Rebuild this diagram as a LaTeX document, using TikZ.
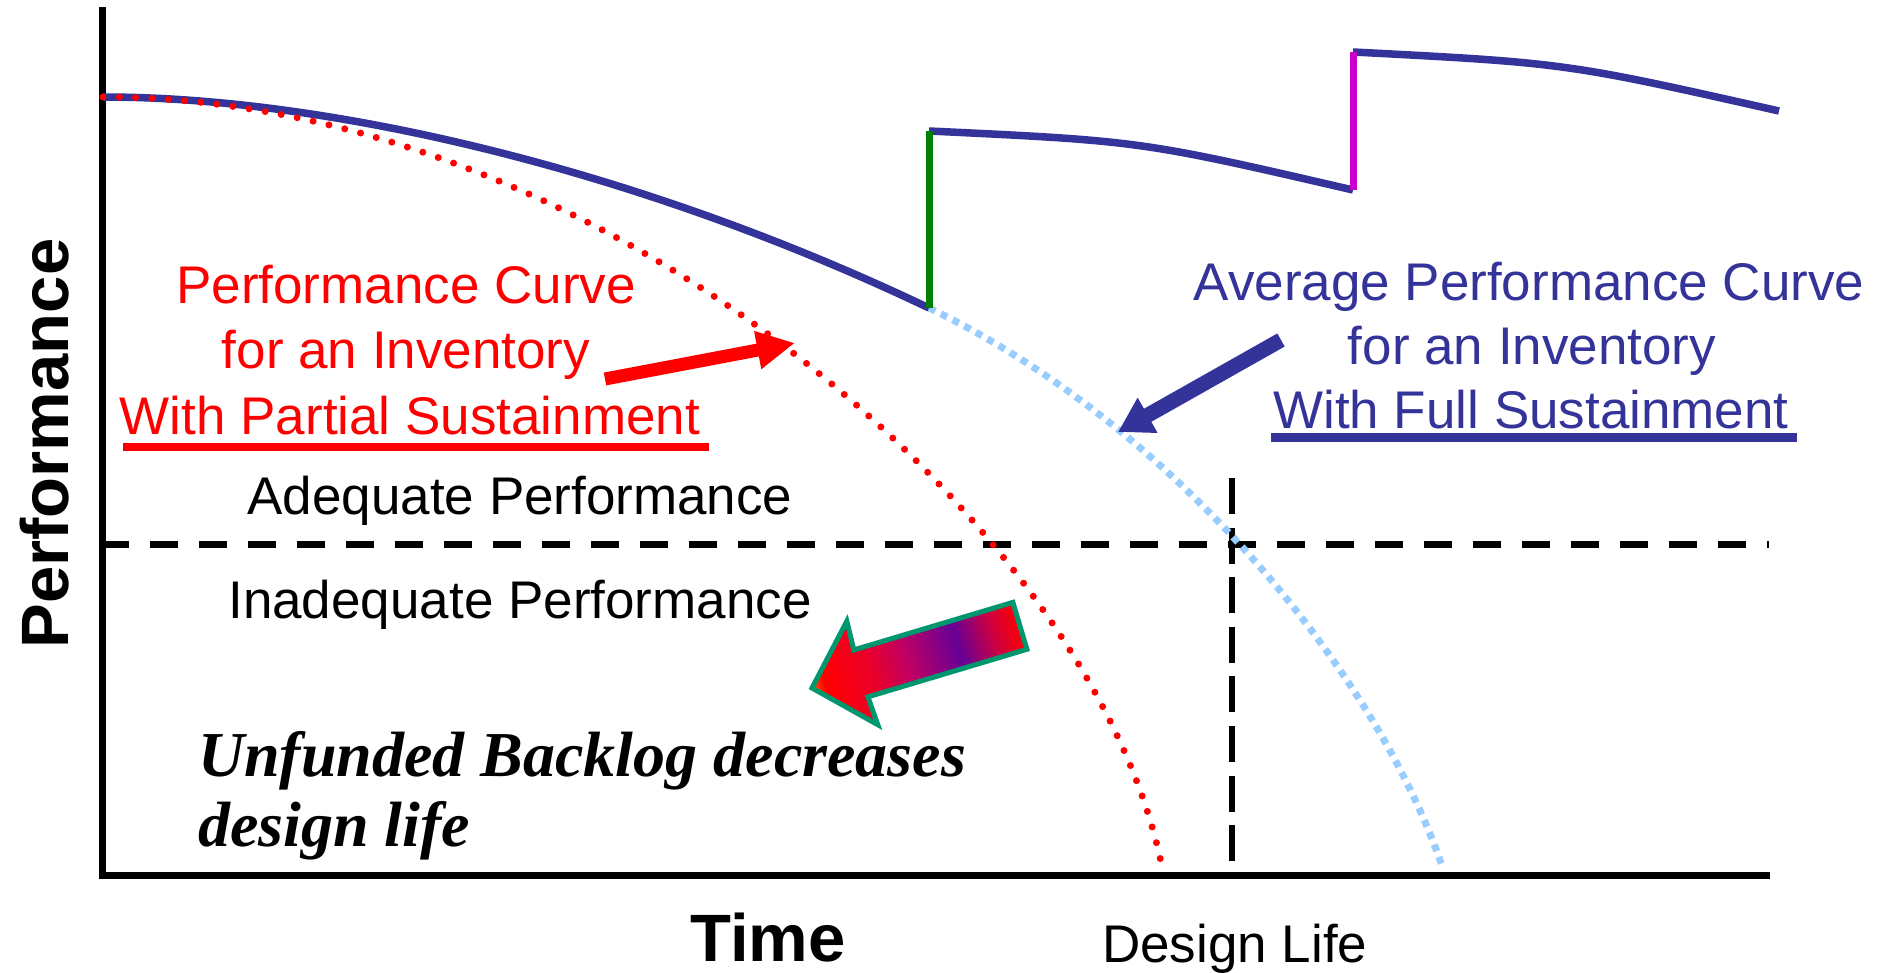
\documentclass[tikz,border=0pt]{standalone}
\usepackage{fontspec}
\setmainfont{Liberation Sans}
\newfontfamily\timesf{Liberation Serif}
\usetikzlibrary{arrows.meta}
\definecolor{perfblue}{RGB}{51,51,153}
\definecolor{lightblue}{RGB}{153,204,255}
\definecolor{perfred}{RGB}{255,0,0}
\definecolor{arrowedge}{RGB}{0,150,110}
\definecolor{sgreen}{RGB}{0,128,0}
\definecolor{smag}{RGB}{204,0,204}
\definecolor{tipor}{RGB}{255,90,0}
\definecolor{shA}{RGB}{235,0,40}
\definecolor{shB}{RGB}{190,0,100}
\definecolor{shC}{RGB}{102,0,150}
\definecolor{shD}{RGB}{200,0,70}
\pgfdeclarehorizontalshading{fatarrowshade}{100bp}{color(0bp)=(tipor); color(25bp)=(tipor); color(28bp)=(perfred); color(39bp)=(shA); color(48bp)=(shB); color(60bp)=(shC); color(68bp)=(shD); color(75bp)=(perfred); color(100bp)=(perfred)}
\begin{document}
\begin{tikzpicture}[x=1pt,y=-1pt,
  axisline/.style={line width=7pt,black,line join=miter},
  bluecurve/.style={draw=perfblue,line width=7.5pt},
  reddots/.style={draw=perfred,line width=7pt,line cap=round,dash pattern=on 0pt off 16.3pt},
  bluedots/.style={draw=lightblue,line width=7pt,line cap=butt,dash pattern=on 7pt off 6.2pt},
  hdash/.style={line width=7pt,black,dash pattern=on 28pt off 21pt},
  vdash/.style={line width=6.5pt,black,dash pattern=on 36pt off 13.6pt},
  jumpline/.style={line width=7pt},
  redtxt/.style={text=perfred,font=\fontsize{53}{60}\selectfont,inner sep=0pt,anchor=base},
  bluetxt/.style={text=perfblue,font=\fontsize{53}{60}\selectfont,inner sep=0pt,anchor=base},
  blacktxt/.style={text=black,font=\fontsize{53}{60}\selectfont,inner sep=0pt,anchor=base},
  bigbold/.style={text=black,font=\fontsize{67}{70}\selectfont\bfseries,inner sep=0pt,anchor=base},
  backlogtxt/.style={text=black,font=\fontsize{64}{70}\selectfont\timesf\bfseries\itshape,inner sep=0pt,anchor=base west}
]
\useasboundingbox (0,0) rectangle (1879,973);

% axes
\coordinate (axtop) at (102,7);
\coordinate (axorigin) at (102,875);
\coordinate (axright) at (1770,875);
\draw[axisline] (axtop) -- (axorigin) -- (axright);

% dashed threshold lines
\coordinate (hdA) at (101,544);
\coordinate (hdB) at (1769,544);
\draw[hdash] (hdA) -- (hdB);
\coordinate (vdA) at (1232,478);
\coordinate (vdB) at (1232,862);
\draw[vdash] (vdA) -- (vdB);

% curves
\coordinate (start) at (103,97);
\coordinate (brk1) at (929,308);
\coordinate (top1) at (929,131);
\coordinate (brk2) at (1353,190);
\coordinate (top2) at (1353,52);
\coordinate (bend) at (1779,111);
\coordinate (redend) at (1162,867);
\coordinate (lbend) at (1443,869);

\draw[bluedots] (brk1) .. controls (1179,428) and (1380,680) .. (lbend);
\draw[bluecurve] (start) .. controls (330,97) and (640,170) .. (brk1);
\draw[bluecurve] (top1) .. controls (1141,141) .. (brk2);
\draw[bluecurve] (top2) .. controls (1566,63) .. (bend);
\draw[jumpline,sgreen] (brk1) -- (top1);
\draw[jumpline,smag] (brk2) -- (top2);
\draw[reddots] (start) .. controls (603,97) and (1093,525) .. (redend);

% pointer arrows
\coordinate (rarrT) at (605,379);
\coordinate (rarrH) at (795,343);
\draw[perfred,line width=13pt,-{Triangle[length=38pt,width=36pt]}] (rarrT) -- (rarrH);
\coordinate (barrT) at (1281,340);
\coordinate (barrH) at (1118,432);
\draw[perfblue,line width=15pt,-{Triangle[length=34pt,width=38pt]}] (barrT) -- (barrH);

% red label
\node[redtxt] (redA) at (406,304) {Performance Curve};
\node[redtxt] (redB) at (406,369) {for an Inventory};
\node[redtxt] (redC) at (410,434) {With Partial Sustainment};
\coordinate (rulA) at (123,447);
\coordinate (rulB) at (709,447);
\draw[perfred,line width=8pt] (rulA) -- (rulB);

% blue label
\node[bluetxt] (blueA) at (1529,301) {Average Performance Curve};
\node[bluetxt] (blueB) at (1532,364.5) {for an Inventory};
\node[bluetxt] (blueC) at (1531,428) {With Full Sustainment};
\coordinate (bulA) at (1271,437);
\coordinate (bulB) at (1797,437);
\draw[perfblue,line width=9pt] (bulA) -- (bulB);

% region labels
\node[blacktxt] (adeq) at (520,514) {Adequate Performance};
\node[blacktxt] (inadeq) at (520,618) {Inadequate Performance};

% axis labels
\node[bigbold,rotate=90] (ylab) at (68,443.5) {Performance};
\node[bigbold] (xlab) at (768,961) {Time};
\node[blacktxt,anchor=base west] (dlife) at (1102,962) {Design Life};

% backlog text
\node[backlogtxt] (blA) at (198,776) {Unfunded Backlog decreases};
\node[backlogtxt] (blB) at (198,846) {design life};

% fat gradient arrow
\begin{scope}[transform canvas={shift={(812,688)},rotate=16.65}]
\shadedraw[shading=fatarrowshade,draw=arrowedge,line width=5pt,line join=miter]
  (0,0) -- (52.5,-54) -- (51,-24.5) -- (217,-24.5) -- (217,24.5) -- (51,24.5) -- (52.5,54) -- cycle;
\end{scope}
\end{tikzpicture}
\end{document}
